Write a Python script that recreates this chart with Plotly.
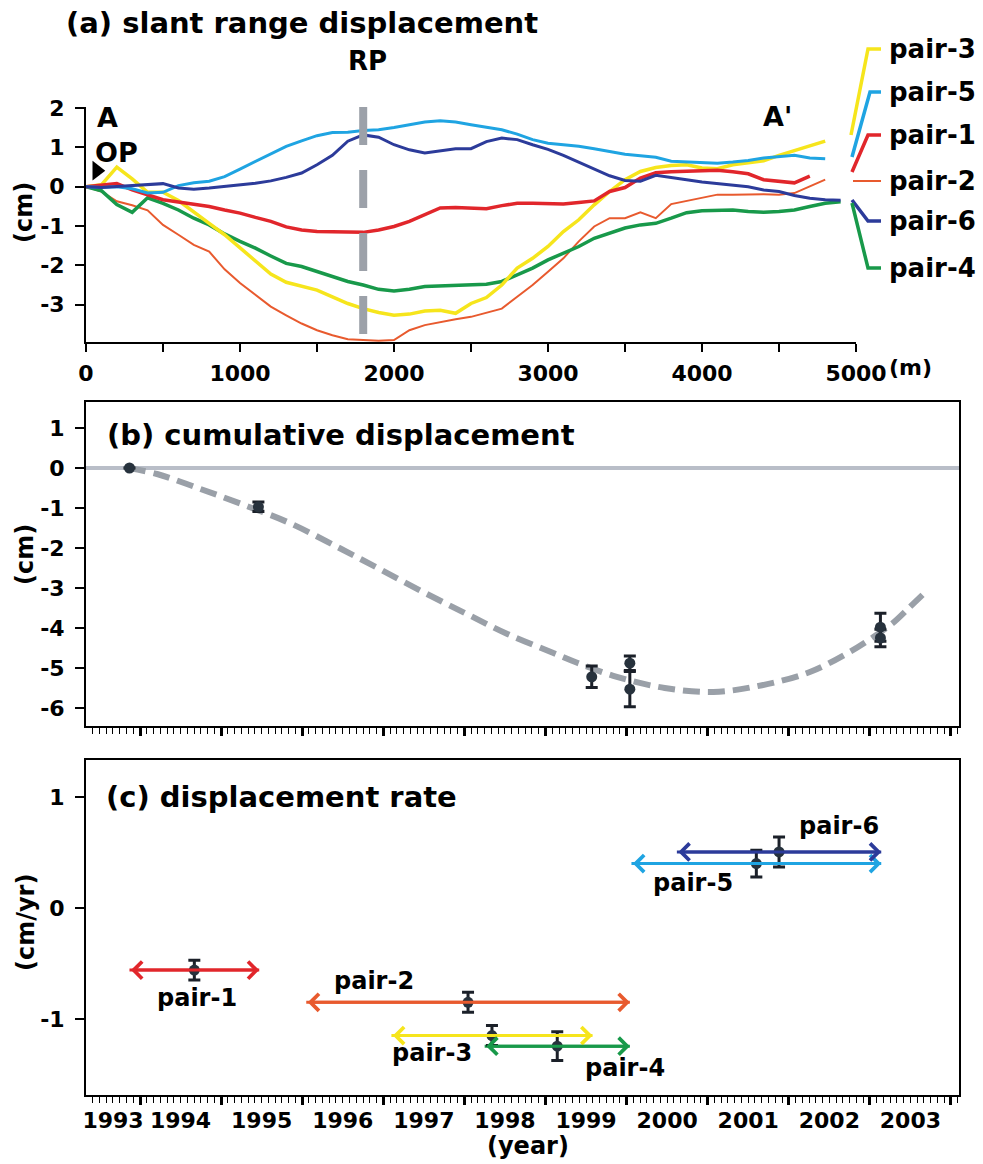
import plotly.graph_objects as go

W, H = 983, 1164
FONT = "DejaVu Sans"

# ---------------- data: (a) slant range displacement profiles ----------------
DIST_M = [0, 100, 200, 300, 400, 500, 600, 700, 800, 900,
          1000, 1100, 1200, 1300, 1400, 1500, 1600, 1700, 1800, 1900,
          2000, 2100, 2200, 2300, 2400, 2500, 2600, 2700, 2800, 2900,
          3000, 3100, 3200, 3300, 3400, 3500, 3600, 3700, 3800, 3900,
          4000, 4100, 4200, 4300, 4400, 4500, 4600, 4700, 4800, 4900]

PAIR3_CM = [0.0, 0.05, 0.50, 0.20, -0.14, -0.14, -0.35, -0.63, -0.93, -1.22,
            -1.56, -1.90, -2.22, -2.43, -2.54, -2.63, -2.80, -2.97, -3.10, -3.20,
            -3.27, -3.24, -3.16, -3.14, -3.22, -2.97, -2.82, -2.50, -2.07, -1.82,
            -1.52, -1.14, -0.84, -0.46, -0.12, 0.18, 0.39, 0.49, 0.54, 0.56,
            0.48, 0.46, 0.56, 0.60, 0.66, 0.80, 0.92, 1.03, 1.16, None]
PAIR5_CM = [0.0, -0.02, 0.0, -0.05, -0.16, -0.14, 0.03, 0.10, 0.14, 0.26,
            0.45, 0.65, 0.85, 1.03, 1.17, 1.30, 1.38, 1.39, 1.43, 1.45,
            1.51, 1.58, 1.65, 1.68, 1.65, 1.58, 1.52, 1.45, 1.34, 1.20,
            1.11, 1.07, 1.03, 0.97, 0.90, 0.83, 0.79, 0.75, 0.65, 0.63,
            0.62, 0.60, 0.63, 0.67, 0.73, 0.77, 0.80, 0.73, 0.71, None]
PAIR1_CM = [0.0, 0.05, 0.08, -0.08, -0.20, -0.33, -0.39, -0.44, -0.50, -0.59,
            -0.67, -0.78, -0.88, -1.02, -1.10, -1.14, -1.14, -1.16, -1.16, -1.10,
            -1.01, -0.88, -0.71, -0.54, -0.53, -0.54, -0.56, -0.48, -0.42, -0.42,
            -0.44, -0.44, -0.40, -0.36, -0.12, -0.02, 0.22, 0.36, 0.38, 0.40,
            0.40, 0.42, 0.38, 0.33, 0.18, 0.13, 0.10, 0.27, None, None]
PAIR2_CM = [0.0, -0.12, -0.37, -0.47, -0.60, -0.97, -1.22, -1.48, -1.65, -2.10,
            -2.45, -2.75, -3.05, -3.27, -3.48, -3.65, -3.78, -3.88, -3.90, -3.92,
            -3.90, -3.65, -3.52, -3.44, -3.37, -3.31, -3.20, -3.10, -2.80, -2.50,
            -2.16, -1.82, -1.39, -1.01, -0.80, -0.80, -0.65, -0.80, -0.44, -0.36,
            -0.27, -0.20, -0.20, -0.19, -0.19, -0.20, -0.16, 0.01, 0.18, None]
PAIR6_CM = [0.0, -0.02, 0.01, 0.03, 0.05, 0.08, -0.03, -0.06, -0.03, 0.01,
            0.05, 0.09, 0.15, 0.24, 0.35, 0.56, 0.80, 1.16, 1.32, 1.26,
            1.07, 0.94, 0.86, 0.92, 0.97, 0.97, 1.15, 1.24, 1.20, 1.07,
            0.95, 0.80, 0.62, 0.45, 0.28, 0.16, 0.14, 0.29, 0.24, 0.18,
            0.12, 0.08, 0.03, 0.0, -0.08, -0.12, -0.22, -0.29, -0.33, -0.34]
PAIR4_CM = [0.0, -0.10, -0.45, -0.65, -0.28, -0.42, -0.59, -0.80, -0.97, -1.20,
            -1.39, -1.56, -1.76, -1.95, -2.03, -2.16, -2.29, -2.41, -2.50, -2.61,
            -2.65, -2.61, -2.54, -2.52, -2.50, -2.50, -2.48, -2.41, -2.24, -2.07,
            -1.86, -1.69, -1.52, -1.31, -1.18, -1.05, -0.97, -0.93, -0.80, -0.66,
            -0.61, -0.59, -0.59, -0.63, -0.65, -0.63, -0.59, -0.50, -0.42, -0.38]

RP_DIST = 1800          # reference point (m)
OP_DIST = 70            # origin point marker (m)

# ---------------- data: (b) cumulative displacement ----------------
EPOCH_YEAR = [1993.87, 1995.46, 1999.57, 2000.04, 2000.04, 2003.13, 2003.13]
CUM_CM = [0.0, -0.97, -5.22, -4.88, -5.53, -3.98, -4.25]
CUM_ERR = [0.0, 0.12, 0.27, 0.18, 0.44, 0.35, 0.22]

TREND_YEAR = [1993.86, 1994.21, 1994.74, 1995.29, 1995.85, 1996.43, 1996.93, 1997.49,
              1998.03, 1998.53, 1999.09, 1999.39, 1999.88, 2000.47, 2001.07, 2001.67,
              2002.26, 2002.75, 2003.04, 2003.28, 2003.49, 2003.66]
TREND_CM = [0.0, -0.15, -0.52, -0.93, -1.38, -1.97, -2.50, -3.10,
            -3.65, -4.15, -4.62, -4.87, -5.22, -5.50, -5.60, -5.43,
            -5.10, -4.60, -4.23, -3.88, -3.48, -3.15]

# ---------------- data: (c) displacement rate ----------------
PAIRS = ["pair-1", "pair-2", "pair-3", "pair-4", "pair-5", "pair-6"]
PAIR_START = [1993.87, 1996.05, 1997.10, 1998.25, 2000.06, 2000.62]
PAIR_END = [1995.47, 2000.04, 1999.58, 2000.04, 2003.14, 2003.14]
RATE_CMYR = [-0.56, -0.85, -1.15, -1.245, 0.40, 0.505]
RATE_ERR = [0.09, 0.09, 0.09, 0.13, 0.12, 0.135]

YEAR_TICKS = [1994, 1995, 1996, 1997, 1998, 1999, 2000, 2001, 2002, 2003, 2004]
YEAR_LABELS = ["1993", "1994", "1995", "1996", "1997", "1998", "1999",
               "2000", "2001", "2002", "2003"]
YEAR_LABEL_POS = [1993.667, 1994.5, 1995.5, 1996.5, 1997.5, 1998.5, 1999.5,
                  2000.5, 2001.5, 2002.5, 2003.5]

# ---------------- styles ----------------
COLORS = {
    "pair-1": "#e1262b",
    "pair-2": "#e85a2e",
    "pair-3": "#f6e51c",
    "pair-4": "#18994a",
    "pair-5": "#1fa4e2",
    "pair-6": "#2c3b9a",
}
WIDTHS_A = {"pair-1": 3.5, "pair-2": 2.0, "pair-3": 3.5, "pair-4": 3.5,
            "pair-5": 3.0, "pair-6": 3.0}
PROFILES = {"pair-1": PAIR1_CM, "pair-2": PAIR2_CM, "pair-3": PAIR3_CM,
            "pair-4": PAIR4_CM, "pair-5": PAIR5_CM, "pair-6": PAIR6_CM}
DRAW_ORDER_A = ["pair-2", "pair-4", "pair-3", "pair-1", "pair-5", "pair-6"]

X_RANGE_T = [1993.334, 2004.099]


def X(p):
    return p / W


def Y(p):
    return 1 - p / H


def hyphen_labels(vals):
    return [str(v).replace("\u2212", "-") for v in vals]


fig = go.Figure()

# ---- panel (a) ----
for name in DRAW_ORDER_A:
    fig.add_trace(go.Scatter(
        x=DIST_M, y=PROFILES[name], mode="lines", xaxis="x", yaxis="y",
        line=dict(color=COLORS[name], width=WIDTHS_A[name]),
        connectgaps=False, showlegend=False, hoverinfo="skip"))

fig.add_trace(go.Scatter(
    x=[RP_DIST, RP_DIST], y=[2.03, -3.95], mode="lines", xaxis="x", yaxis="y",
    line=dict(color="#9ca1a9", width=8, dash="38px,25px"),
    showlegend=False, hoverinfo="skip"))
fig.add_trace(go.Scatter(
    x=[RP_DIST], y=[2.32], mode="markers", xaxis="x", yaxis="y", cliponaxis=False,
    marker=dict(symbol="triangle-down", size=18, color="black"),
    showlegend=False, hoverinfo="skip"))
fig.add_trace(go.Scatter(
    x=[OP_DIST], y=[0.41], mode="markers", xaxis="x", yaxis="y", cliponaxis=False,
    marker=dict(symbol="triangle-right", size=17, color="black"),
    showlegend=False, hoverinfo="skip"))

# ---- panel (b) ----
fig.add_trace(go.Scatter(
    x=TREND_YEAR, y=TREND_CM, mode="lines", xaxis="x2", yaxis="y2",
    line=dict(color="#9aa0a8", width=6, dash="17px,8px", shape="spline", smoothing=1.0),
    showlegend=False, hoverinfo="skip"))
fig.add_trace(go.Scatter(
    x=EPOCH_YEAR, y=CUM_CM, mode="markers", xaxis="x2", yaxis="y2",
    marker=dict(size=11, color="#27323d"),
    error_y=dict(type="data", array=CUM_ERR, color="#1b2029", thickness=3, width=6),
    showlegend=False, hoverinfo="skip"))

# ---- panel (c) ----
annotations = []
for name, s, e, r in zip(PAIRS, PAIR_START, PAIR_END, RATE_CMYR):
    fig.add_trace(go.Scatter(
        x=[s, e], y=[r, r], mode="lines", xaxis="x3", yaxis="y3",
        line=dict(color=COLORS[name], width=3),
        showlegend=False, hoverinfo="skip"))
    annotations.append(dict(
        x=e, y=r, ax=s, ay=r, xref="x3", yref="y3", axref="x3", ayref="y3",
        text="", showarrow=True, arrowhead=4, startarrowhead=4,
        arrowside="end+start", arrowwidth=3, arrowsize=1.1, startarrowsize=1.1,
        arrowcolor=COLORS[name], standoff=0, startstandoff=0))

mid = [(s + e) / 2 for s, e in zip(PAIR_START, PAIR_END)]
fig.add_trace(go.Scatter(
    x=mid, y=RATE_CMYR, mode="markers", xaxis="x3", yaxis="y3",
    marker=dict(size=11, color="#27323d"),
    error_y=dict(type="data", array=RATE_ERR, color="#1b2029", thickness=3, width=6),
    showlegend=False, hoverinfo="skip"))

# dummy trace to materialise the label axis
fig.add_trace(go.Scatter(x=[1998.0], y=[None], xaxis="x4", yaxis="y3",
                         mode="markers", showlegend=False, hoverinfo="skip"))

# ---------------- text ----------------
def txt(text, x, y, size, xanchor="center", angle=0):
    return dict(text=text, x=X(x), y=Y(y), xref="paper", yref="paper",
                xanchor=xanchor, yanchor="middle", showarrow=False, textangle=angle,
                font=dict(family=FONT, size=size, color="black", weight="bold"))

annotations += [
    txt("(a) slant range displacement", 64, 23, 29, "left"),
    txt("(b) cumulative displacement", 105, 435, 29, "left"),
    txt("(c) displacement rate", 104, 797, 29, "left"),
    txt("RP", 367, 61, 26),
    txt("A", 107, 118, 27),
    txt("OP", 116, 153, 27),
    txt("A'", 777, 117, 27),
    txt("(m)", 910, 367, 22),
    txt("(year)", 528, 1146, 24),
    txt("(cm)", 24, 213, 24, angle=-90),
    txt("(cm)", 25, 555, 24, angle=-90),
    txt("(cm/yr)", 26, 923, 24, angle=-90),
]

# legend of panel (a)
LEGEND_ORDER = ["pair-3", "pair-5", "pair-1", "pair-2", "pair-6", "pair-4"]
CONNECTORS = {
    "pair-3": [(851, 135), (868, 49), (881, 49)],
    "pair-5": [(852, 157), (870, 92), (881, 92)],
    "pair-1": [(852, 172), (868, 135), (881, 135)],
    "pair-2": [(853, 181), (881, 181)],
    "pair-6": [(852, 200), (868, 221), (881, 221)],
    "pair-4": [(852, 203), (868, 268), (881, 268)],
}
shapes = []
for name in LEGEND_ORDER:
    pts = CONNECTORS[name]
    path = "M " + " L ".join(f"{X(a):.5f},{Y(b):.5f}" for a, b in pts)
    shapes.append(dict(type="path", path=path, xref="paper", yref="paper",
                       line=dict(color=COLORS[name], width=2 if name == "pair-2" else 3.5)))
    annotations.append(txt(name, 887, pts[-1][1], 26, "left"))

# pair labels of panel (c)
PAIR_LABEL_PX = {"pair-1": (197, 998), "pair-2": (374, 981), "pair-3": (432, 1053),
                 "pair-4": (625, 1068), "pair-5": (693, 883), "pair-6": (839, 826)}
for name in PAIRS:
    a, b = PAIR_LABEL_PX[name]
    annotations.append(txt(name, a, b, 24))

# zero line panel (b)
shapes.append(dict(type="line", xref="x2 domain", yref="y2", x0=0, x1=1, y0=0, y1=0,
                   line=dict(color="#b9bec8", width=4), layer="below"))

tickfont = dict(family=FONT, size=22, color="black", weight="bold")
common = dict(showgrid=False, zeroline=False, showline=True, linecolor="black",
              linewidth=2, ticks="outside", tickcolor="black", tickfont=tickfont)

month_ticks = [y + m / 12 for y in range(1993, 2005) for m in range(1, 12)
               if X_RANGE_T[0] <= y + m / 12 <= X_RANGE_T[1]]

time_axis = dict(common, range=X_RANGE_T, domain=[X(86), X(959)], tickmode="array",
                 tickvals=YEAR_TICKS, showticklabels=False, ticklen=8, tickwidth=3,
                 mirror=True,
                 minor=dict(tickmode="array", tickvals=month_ticks, ticks="outside",
                            ticklen=6, tickwidth=1, tickcolor="black"))

YA_TICKS = [-3, -2, -1, 0, 1, 2]
YB_TICKS = [-6, -5, -4, -3, -2, -1, 0, 1]
YC_TICKS = [-1, 0, 1]

fig.update_layout(
    width=W, height=H, margin=dict(l=0, r=0, t=0, b=0),
    paper_bgcolor="white", plot_bgcolor="white", template="none",
    font=dict(family=FONT, color="black"),
    showlegend=False,
    xaxis=dict(common, range=[0, 5000], domain=[X(86), X(856)], anchor="y",
               tickmode="array", tickvals=[0, 1000, 2000, 3000, 4000, 5000],
               ticklen=8, tickwidth=2, ticklabelstandoff=3,
               minor=dict(tickmode="array", tickvals=[500, 1500, 2500, 3500, 4500],
                          ticks="outside", ticklen=8, tickwidth=2, tickcolor="black")),
    yaxis=dict(common, range=[-3.95, 2.03], domain=[Y(342), Y(107)], anchor="x",
               tickmode="array", tickvals=YA_TICKS, ticktext=hyphen_labels(YA_TICKS),
               ticklen=9, tickwidth=2, ticklabelstandoff=6),
    xaxis2=dict(time_axis, anchor="y2"),
    yaxis2=dict(common, range=[-6.45, 1.65], domain=[Y(726), Y(402)], anchor="x2",
                tickmode="array", tickvals=YB_TICKS, ticktext=hyphen_labels(YB_TICKS),
                ticklen=9, tickwidth=2, mirror=True, ticklabelstandoff=6),
    xaxis3=dict(time_axis, anchor="y3"),
    yaxis3=dict(common, range=[-1.685, 1.333], domain=[Y(1095), Y(760)], anchor="x3",
                tickmode="array", tickvals=YC_TICKS, ticktext=hyphen_labels(YC_TICKS),
                ticklen=9, tickwidth=2, mirror=True, ticklabelstandoff=6),
    xaxis4=dict(range=X_RANGE_T, overlaying="x3", anchor="y3", side="bottom",
                domain=[X(86), X(959)], tickmode="array", tickvals=YEAR_LABEL_POS,
                ticktext=YEAR_LABELS, ticks="outside", ticklen=6,
                tickcolor="rgba(0,0,0,0)", showline=False, showgrid=False,
                zeroline=False, tickfont=tickfont),
    annotations=annotations,
    shapes=shapes,
)

fig.write_html("out.html")
